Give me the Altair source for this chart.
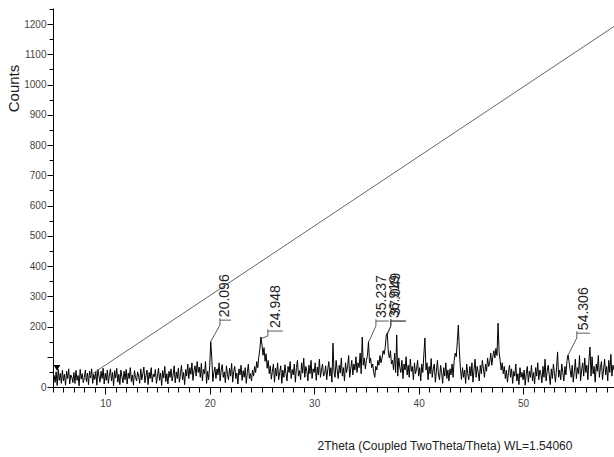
import altair as alt
import pandas as pd

# ---- data ----
theta_start = 5.0
theta_step = 0.1
counts = [
    8, 38, 15, 50, 5, 58, 22, 45, 12, 55,
    20, 42, 6, 52, 28, 60, 10, 40, 33, 15,
    48, 12, 55, 22, 38, 4, 58, 26, 44, 14,
    32, 56, 18, 46, 8, 52, 30, 60, 12, 42,
    25, 50, 6, 58, 36, 16, 52, 28, 62, 10,
    45, 22, 56, 12, 40, 60, 20, 48, 4, 54,
    30, 62, 16, 42, 8, 56, 34, 14, 52, 24,
    58, 10, 46, 28, 64, 18, 40, 6, 54, 32,
    20, 50, 36, 12, 60, 24, 44, 66, 14, 38,
    56, 8, 48, 28, 64, 16, 42, 34, 58, 12,
    36, 62, 22, 46, 5, 54, 30, 68, 18, 44,
    10, 52, 32, 60, 20, 40, 70, 14, 50, 28,
    62, 16, 44, 72, 24, 48, 8, 58, 36, 76,
    28, 64, 42, 80, 22, 56, 70, 36, 84, 48,
    66, 32, 78, 20, 58, 44, 84, 12, 52, 24,
    70, 150, 95, 18, 48, 66, 28, 60, 40, 80,
    20, 56, 74, 32, 50, 14, 70, 42, 24, 62,
    36, 78, 16, 52, 68, 28, 46, 10, 60, 40,
    72, 22, 54, 32, 64, 12, 48, 76, 28, 44,
    20, 56, 36, 68, 48, 84, 64, 100, 125, 165,
    140, 105, 130, 85, 110, 62, 88, 44, 70, 26,
    52, 76, 16, 62, 36, 80, 24, 48, 70, 12,
    56, 32, 74, 44, 20, 68, 48, 84, 28, 58,
    40, 76, 16, 64, 88, 36, 54, 24, 80, 46,
    95, 32, 68, 52, 20, 72, 44, 88, 28, 60,
    48, 80, 22, 66, 40, 92, 32, 56, 76, 36,
    44, 70, 24, 58, 84, 36, 64, 16, 145, 50,
    32, 88, 56, 28, 72, 46, 96, 36, 64, 20,
    80, 48, 68, 104, 32, 60, 88, 40, 76, 56,
    100, 48, 80, 64, 112, 44, 165, 72, 96, 60,
    88, 104, 150, 80, 96, 64, 76, 48, 32, 68,
    56, 88, 72, 104, 80, 96, 120, 108, 130, 172,
    178, 112, 96, 120, 76, 88, 56, 112, 48, 172,
    36, 96, 64, 48, 88, 28, 76, 56, 100, 40,
    72, 32, 92, 52, 68, 24, 80, 44, 60, 88,
    36, 64, 20, 76, 48, 108, 162, 56, 80, 24,
    68, 44, 94, 32, 60, 76, 16, 52, 88, 40,
    24, 72, 48, 12, 64, 36, 80, 28, 56, 20,
    60, 40, 76, 32, 88, 112, 100, 150, 205, 120,
    60, 25, 64, 32, 56, 12, 76, 44, 24, 68,
    36, 80, 16, 56, 92, 32, 68, 48, 20, 72,
    44, 88, 60, 32, 76, 52, 96, 68, 80, 112,
    72, 100, 120, 96, 128, 104, 211, 116, 88, 56,
    80, 44, 68, 28, 56, 16, 48, 72, 32, 60,
    12, 52, 36, 76, 20, 44, 8, 64, 32, 48,
    24, 56, 6, 44, 68, 16, 52, 32, 72, 20,
    48, 10, 64, 36, 80, 24, 56, 44, 14, 68,
    32, 92, 20, 52, 72, 40, 8, 60, 28, 76,
    44, 16, 64, 116, 32, 56, 24, 76, 48, 20,
    68, 40, 88, 106, 84, 56, 32, 72, 16, 52,
    92, 28, 64, 44, 104, 20, 56, 80, 36, 96,
    48, 72, 24, 88, 132, 36, 100, 44, 68, 16,
    76, 52, 104, 32, 64, 84, 24, 56, 92, 40,
    68, 20, 88, 48, 108, 36, 72, 56,
]
two_theta = [round(theta_start + i * theta_step, 2) for i in range(len(counts))]

# background line
bg_x = [7.87, 58.7]
bg_y = [23, 1192]

# peak annotations
peak_labels = ["20.096", "24.948", "35.237", "36.919", "37.049", "54.306"]
peak_x = [20.096, 24.948, 35.237, 36.919, 37.049, 54.306]
peak_y = [150, 160, 150, 172, 176, 106]
label_x = [21.51, 26.30, 36.48, 37.73, 37.85, 55.81]
label_y = [231, 195, 228, 228, 236, 188]
bracket_x1 = [20.98, 25.57, 35.91, 37.34, 37.34, 55.14]
bracket_x2 = [22.03, 27.01, 37.15, 38.78, 38.78, 56.39]
bracket_y = [221, 185, 218, 218, 218, 178]

# start marker
marker_x = [5.38]
marker_y = [63]

x_ticks = list(range(5, 59))
y_ticks = list(range(0, 1251, 50))

# ---- tables ----
spec = pd.DataFrame({"t": two_theta, "c": counts})
bg = pd.DataFrame({"t": bg_x, "c": bg_y})
peaks = pd.DataFrame({
    "lab": peak_labels, "px": peak_x, "py": peak_y,
    "lx": label_x, "ly": label_y,
    "bx1": bracket_x1, "bx2": bracket_x2, "by": bracket_y,
})
peaks["stub_lo"] = peaks["by"] - 16
peaks["stub_hi"] = peaks["by"] + 6
marker = pd.DataFrame({"t": marker_x, "c": marker_y})

xs = alt.Scale(domain=[5, 58.7], nice=False, zero=False)
ys = alt.Scale(domain=[0, 1253], nice=False)

x_axis = alt.Axis(
    values=x_ticks, format="d",
    labelExpr="datum.value % 10 == 0 && datum.value > 5 ? datum.label : ''",
    tickSize={"condition": {"test": "datum.value % 10 == 0", "value": 7}, "value": 5},
    grid=False, labelFontSize=10, labelColor="#444", labelPadding=4,
    title="2Theta (Coupled TwoTheta/Theta) WL=1.54060",
    titleX=264, titleY=58, titleAlign="left", titleBaseline="middle",
    titleFontSize=12, titleFontWeight="normal", titleColor="#222",
)
y_axis = alt.Axis(
    values=y_ticks, format="d",
    labelExpr="datum.value % 100 == 0 && datum.value != 100 ? datum.label : ''",
    tickSize={"condition": {"test": "datum.value % 100 == 0", "value": 6}, "value": 4},
    grid=False, labelFontSize=10, labelColor="#444", labelPadding=1,
    title="Counts", titleX=-40, titleY=80, titleAlign="center",
    titleBaseline="middle", titleAngle=270,
    titleFontSize=15, titleFontWeight="normal", titleColor="#222",
)


def X(field):
    return alt.X(field, type="quantitative", scale=xs, axis=x_axis)


def Y(field):
    return alt.Y(field, type="quantitative", scale=ys, axis=y_axis)


line = alt.Chart(spec).mark_line(color="#000", strokeWidth=1.0, clip=True).encode(
    x=X("t"), y=Y("c"),
)

bgline = alt.Chart(bg).mark_line(color="#666", strokeWidth=1, clip=True).encode(
    x=X("t"), y=Y("c"),
)

leader = alt.Chart(peaks).mark_rule(color="#333", strokeWidth=0.8).encode(
    x=X("px"), y=Y("py"), x2="bx1:Q", y2="stub_lo:Q",
)
stub = alt.Chart(peaks).mark_rule(color="#333", strokeWidth=0.8).encode(
    x=X("bx1"), y=Y("stub_lo"), y2="stub_hi:Q",
)
bracket = alt.Chart(peaks).mark_rule(color="#333", strokeWidth=0.8).encode(
    x=X("bx1"), x2="bx2:Q", y=Y("by"),
)
labels = alt.Chart(peaks).mark_text(
    angle=270, align="left", baseline="middle", fontSize=14, color="#222",
    font="Liberation Sans",
).encode(
    x=X("lx"), y=Y("ly"), text="lab:N",
)
tri = alt.Chart(marker).mark_point(shape="triangle-down", filled=True, size=45,
                                   color="black", opacity=1).encode(
    x=X("t"), y=Y("c"),
)

chart = alt.layer(line, bgline, leader, stub, bracket, labels, tri).properties(
    width=561, height=379,
    autosize=alt.AutoSizeParams(type="none"),
    padding={"left": 53, "top": 8, "right": 0, "bottom": 68},
    background="white",
).configure_view(stroke=None).configure_axis(
    domainColor="black", tickColor="black", labelFont="Liberation Sans",
    titleFont="Liberation Sans", domainWidth=1, tickWidth=1,
)

chart.save("out.html", embed_options={"renderer": "svg", "actions": False})
